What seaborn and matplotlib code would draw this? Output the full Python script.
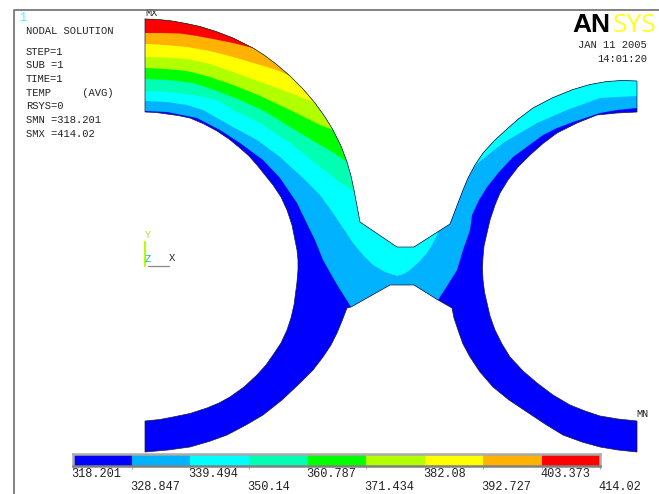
import numpy as np
import matplotlib
matplotlib.use("Agg")
import matplotlib.pyplot as plt
import seaborn as sns

# nine contour levels of the legend
band_colors = ["#0000FF", "#00B2FF", "#00FFFF", "#00FFB2", "#00FF00",
               "#B2FF00", "#FFFF00", "#FFB200", "#FF0000"]
level_labels = ["318.201", "328.847", "339.494", "350.14", "360.787",
                "371.434", "382.08", "392.727", "403.373", "414.02"]

info_lines = ["NODAL SOLUTION", "STEP=1", "SUB =1", "TIME=1", "TEMP     (AVG)",
              "RSYS=0", "SMN =318.201", "SMX =414.02"]
info_y = [31, 52, 65, 79, 93, 106, 120, 134]

# outline of the part (pixels)
outer_top_left = [(145, 19), (154, 19.3), (163, 20), (172, 21), (186, 23.5), (200, 26.5), (216, 31.5),
                  (233, 38), (243, 43), (253, 48), (264, 55), (276, 64), (290, 76), (303, 89),
                  (315, 103), (325, 117), (333, 130), (341, 146), (347, 162), (351, 176),
                  (354, 190), (357, 206), (360, 222)]
notch_top = [(397, 247), (414, 247), (450, 224)]
outer_top_right = [(463, 190), (468, 178), (475, 165), (483, 153), (494, 141), (507, 129), (519, 118.5),
                   (533, 108), (552, 98), (573, 89.5), (590, 84.5), (607, 81.5), (622, 80.5), (637, 81)]
inner_right = [(637, 112), (617, 113), (597, 115), (577, 123), (557, 133), (543, 143.5), (530, 155),
               (518, 167), (508, 180), (500, 193), (495, 205), (490, 220), (487, 233), (484, 246),
               (483, 257), (482.5, 268), (483, 280), (484.5, 292), (487, 303), (490, 316),
               (495, 330), (502, 344), (510, 357), (523, 371), (537, 383), (553, 395), (570, 405),
               (585, 411), (600, 416), (618, 419), (637, 421)]
outer_bottom_right = [(637, 452), (618, 450), (600, 447), (582, 442), (563, 435), (545, 424),
                      (527, 412), (509, 400), (493, 387), (480, 372), (470, 357), (463, 344),
                      (458, 330), (454, 318), (452, 308)]
notch_bottom = [(438, 300), (414, 285), (390, 285), (351, 307)]
outer_bottom_left = [(347, 308), (342, 321), (337, 333), (331, 345), (323, 357), (313, 370),
                     (300, 383), (282, 400), (263, 415), (246, 425), (227, 435), (209, 441.5),
                     (190, 447), (168, 450), (145, 452)]
inner_left = [(145, 421), (160, 419.5), (173, 417), (190, 413.5), (207, 408), (219, 403), (230, 397),
              (244, 387), (257, 375), (266, 365), (273, 355), (281, 343), (287, 330), (291, 318),
              (294, 305), (296, 290), (297, 282), (298, 270), (298, 260), (297, 250), (295, 240),
              (292, 225), (287, 210), (281, 197), (273, 185), (265, 175), (257, 165), (249, 156),
              (240, 148), (229, 139), (217, 131), (204, 124), (190, 118), (178, 115.5), (167, 114),
              (156, 112.5), (145, 112)]

# contour boundaries
blue_edge_left = [(145, 111), (167, 112), (197, 118), (220, 130), (240, 143), (263, 160), (280, 178),
                  (297, 203), (310, 230), (315, 240), (323, 260), (336, 283), (351, 307)]
blue_edge_right = [(438, 300), (447, 286), (457, 270), (463, 250), (470, 230), (472, 215), (479, 200),
                   (487, 187), (499, 172), (513, 157), (528, 146), (543, 135), (557, 128), (573, 122),
                   (600, 113), (617, 110), (637, 108)]
cyan_edge_left = [(145, 101), (166, 102), (187, 105), (203, 110), (233, 127), (257, 140), (280, 157),
                  (303, 178), (320, 195), (333, 213), (343, 228), (353, 243), (363, 255), (373, 265),
                  (385, 272), (397, 276), (404, 274), (410, 270), (419, 262), (427, 253),
                  (433, 243), (438, 233)]
cyan_edge_right = [(470, 172), (478, 163), (503, 143), (537, 123), (567, 110), (600, 98), (618, 97), (637, 96)]
teal_edge = [(145, 91), (169, 92), (193, 95), (217, 100), (233, 110), (260, 123), (290, 143),
             (320, 167), (342, 184), (357, 193)]
green_edge = [(145, 79), (169, 80), (193, 83), (217, 91), (240, 100), (264, 111), (290, 127),
              (320, 145), (334, 153), (347, 162)]
lime_edge = [(145, 68), (166, 69), (187, 71), (210, 77), (233, 85), (258, 95), (290, 110),
             (320, 125), (333, 130)]
yellow_edge = [(145, 57), (166, 57.5), (187, 59), (210, 64), (233, 72), (255, 80), (277, 88),
               (296, 95), (315, 103)]
orange_edge = [(145, 44), (166, 45), (187, 47), (210, 51), (233, 57), (250, 62), (267, 67),
               (279, 71), (290, 76)]
red_edge = [(145, 33), (162, 33), (180, 33.5), (197, 36), (213, 39), (233, 43), (253, 48)]

sns.set_theme(style="white")
plt.rcParams["font.family"] = ["Liberation Mono", "DejaVu Sans Mono"]
palette = sns.color_palette(band_colors)

fig = plt.figure(figsize=(6.59, 4.94), dpi=100, facecolor="white")
ax = fig.add_axes([0, 0, 1, 1])
ax.set_xlim(0, 659)
ax.set_ylim(494, 0)
ax.axis("off")

outline = (outer_top_left + notch_top + outer_top_right + inner_right + outer_bottom_right
           + notch_bottom + outer_bottom_left + inner_left)
ox, oy = zip(*outline)
shape = ax.fill(ox, oy, color=palette[0], lw=0, zorder=1)[0]


def paint(points, color, z):
    # everything above the edge gets the colour, the part outline clips it
    x, y = zip(*points)
    patch = ax.fill(x, y, color=color, lw=0, zorder=z)[0]
    patch.set_clip_path(shape)


def above(edge):
    return edge + [(edge[-1][0], 0), (edge[0][0], 0)]


paint(blue_edge_left + blue_edge_right + [(637, 0), (145, 0)], palette[1], 2)
paint(above(cyan_edge_left), palette[2], 3)
paint(above(cyan_edge_right), palette[2], 3)
paint(above(teal_edge), palette[3], 4)
paint(above(green_edge), palette[4], 5)
paint(above(lime_edge), palette[5], 6)
paint(above(yellow_edge), palette[6], 7)
paint(above(orange_edge), palette[7], 8)
paint(above(red_edge), palette[8], 9)

ax.plot(list(ox) + [ox[0]], list(oy) + [oy[0]], color="#1c1c3a", lw=0.5, zorder=10)

# window frame
ax.plot([14, 14, 659], [494, 10, 10], color="#777777", lw=1.3, zorder=11)

# text blocks
for txt, y in zip(info_lines, info_y):
    ax.text(26, y, txt, fontsize=7.6, color="#222222", va="center", ha="left")
ax.text(19, 18, "1", fontsize=8.5, color="#55EEFF", va="center", ha="left")
ax.text(145, 13, "MX", fontsize=7.4, color="#222222", va="center", ha="left")
ax.text(636, 414, "MN", fontsize=7.4, color="#222222", va="center", ha="left")
ax.text(647, 45, "JAN 11 2005", fontsize=7.6, color="#222222", va="center", ha="right")
ax.text(647, 59, "14:01:20", fontsize=7.6, color="#222222", va="center", ha="right")

# logo
ax.text(572, 32, "AN", fontsize=19, fontweight="bold", family="Liberation Sans",
        color="black", va="baseline", ha="left")
ax.text(613, 32, "SYS", fontsize=19, family="Open Sans", color="#FFFF22", va="baseline", ha="left")

# triad
ax.plot([145, 145], [242, 266], color="#B2FF00", lw=1.5, zorder=3)
ax.plot([148, 169], [266, 266], color="#888888", lw=0.9, zorder=3)
ax.text(148, 235, "Y", fontsize=7.6, color="#B2E040", va="center", ha="center")
ax.text(148, 259, "Z", fontsize=7.6, color="#20B0C0", va="center", ha="center")
ax.text(172, 258, "X", fontsize=7.6, color="#222222", va="center", ha="center")

# legend bar
bar = fig.add_axes([73.3 / 659, 1 - 466.3 / 494, 527 / 659, 12.3 / 494])
sns.heatmap(np.arange(9).reshape(1, 9), cmap=palette, cbar=False, ax=bar,
            xticklabels=False, yticklabels=False)
for name, spine in bar.spines.items():
    spine.set_visible(True)
    spine.set_linewidth(1.8)
    spine.set_color("#808080" if name == "bottom" else "#ABABAB")
bar.set_xticks(np.arange(10))
bar.set_xticklabels([])
bar.tick_params(axis="x", bottom=True, length=2.5, width=0.6, color="#999999", pad=0)
for i, lab in enumerate(level_labels):
    bar.text(i - 0.03, 1.63 if i % 2 == 0 else 2.69, lab, fontsize=8.6, color="#222222",
             ha="left", va="center", clip_on=False)

fig.savefig("out.png", dpi=100)
plt.close()
